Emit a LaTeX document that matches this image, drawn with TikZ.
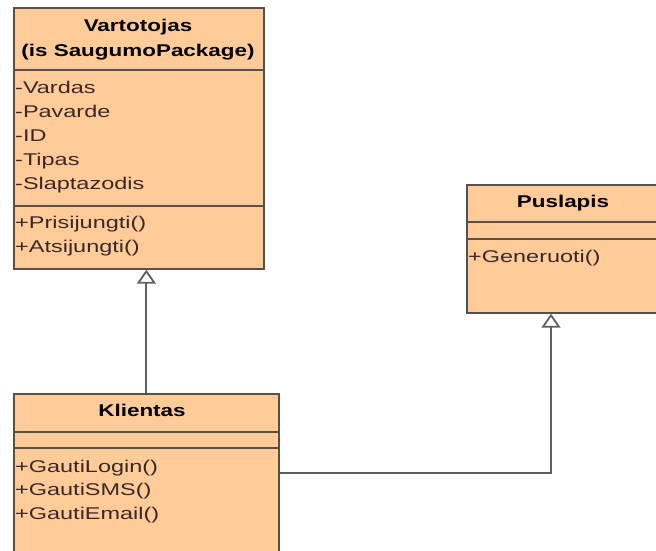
\documentclass[tikz,border=0pt]{standalone}
\usepackage{fontspec}
\newfontfamily\membfont{Liberation Sans}[FakeStretch=1.38]
\newfontfamily\namefont{Liberation Sans}[FakeStretch=1.32]
\usetikzlibrary{arrows.meta}
\definecolor{classfill}{HTML}{FFCC99}
\definecolor{classline}{HTML}{55504A}
\definecolor{membtext}{HTML}{3A2828}
\definecolor{linkgray}{HTML}{606060}
\tikzset{
  umlbox/.style={draw=classline, fill=classfill, line width=1.7pt, inner sep=0pt, anchor=north west},
  sep/.style={draw=classline, line width=1.7pt},
  clsname/.style={inner sep=0pt, anchor=base, font=\namefont\bfseries\fontsize{17}{20}\selectfont, text=black},
  member/.style={inner sep=0pt, anchor=base west, font=\membfont\fontsize{17}{20}\selectfont, text=membtext},
  inherit/.style={draw=linkgray, line width=1.8pt,
    -{Triangle[open, length=14pt, width=19pt, line width=1.8pt, fill=white]}},
}
\begin{document}
\begin{tikzpicture}[x=1pt, y=-1pt]
  \useasboundingbox (0,0) rectangle (656,550);

  % Vartotojas class
  \node (vart) [umlbox, minimum width=250pt, minimum height=261pt] at (13,7) {};
  \draw[sep] (13,70) -- (263,70);
  \draw[sep] (13,206) -- (263,206);
  \node (vartname1) [clsname] at (138,31) {Vartotojas};
  \node (vartname2) [clsname] at (138,56) {(is SaugumoPackage)};
  \node (a1) [member] at (15,93) {-Vardas};
  \node (a2) [member] at (15,117) {-Pavarde};
  \node (a3) [member] at (15,141) {-ID};
  \node (a4) [member] at (15,165) {-Tipas};
  \node (a5) [member] at (15,189) {-Slaptazodis};
  \node (m1) [member] at (15,228) {+Prisijungti()};
  \node (m2) [member] at (15,252) {+Atsijungti()};

  % Puslapis class
  \node (pusl) [umlbox, minimum width=196pt, minimum height=128pt] at (466,184) {};
  \draw[sep] (466,222) -- (662,222);
  \draw[sep] (466,239) -- (662,239);
  \node (puslname) [clsname] at (563,207) {Puslapis};
  \node (p1) [member] at (468,262) {+Generuoti()};

  % Klientas class
  \node (klient) [umlbox, minimum width=265pt, minimum height=170pt] at (13,393) {};
  \draw[sep] (13,432) -- (278,432);
  \draw[sep] (13,448) -- (278,448);
  \node (klientname) [clsname] at (142,416) {Klientas};
  \node (k1) [member] at (15,472) {+GautiLogin()};
  \node (k2) [member] at (15,495) {+GautiSMS()};
  \node (k3) [member] at (15,519) {+GautiEmail()};

  % generalisations
  \draw[inherit] (klient.north) -- (klient.north |- vart.south);
  \coordinate (bend) at (551,473);
  \draw[inherit] (klient.east |- bend) -- (bend) -- (bend |- pusl.south);
\end{tikzpicture}
\end{document}
